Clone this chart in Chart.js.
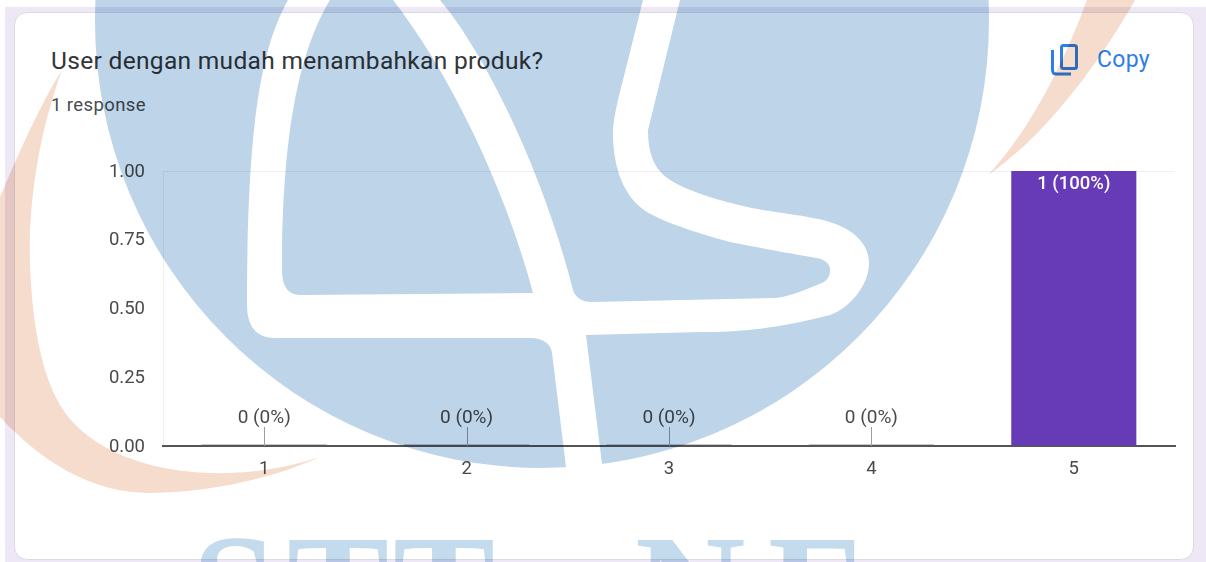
<!DOCTYPE html>
<html>
<head>
<meta charset="utf-8">
<title>User dengan mudah menambahkan produk?</title>
<script src="https://cdn.jsdelivr.net/npm/chart.js@4/dist/chart.umd.min.js"></script>
<style>
html,body{margin:0;padding:0;width:1206px;height:562px;overflow:hidden;background:#fff;font-family:Roboto,sans-serif}
#bg{position:absolute;left:5px;top:7px;right:0;bottom:0;background:#ede7f6}
#card{position:absolute;left:14px;top:12px;width:1178px;height:546px;background:#fff;border:1px solid #dadce0;border-radius:13px}
#cv{position:absolute;left:0;top:0}
#wrap{position:absolute;left:0;top:0;width:1206px;height:562px}
.t{position:absolute;white-space:nowrap}
#title{left:51px;top:46px;font-size:24.5px;line-height:30px;letter-spacing:.32px;color:#333639}
#resp{left:51px;top:93px;font-size:18.5px;line-height:24px;letter-spacing:.4px;color:#4a4d50}
#copy{left:1097px;top:45px;font-size:23px;line-height:30px;font-weight:400;letter-spacing:.3px;color:#2f7de8}
#icon,#wm{position:absolute;left:0;top:0;pointer-events:none}
#wm{mix-blend-mode:multiply}
</style>
</head>
<body>
<div id="bg"></div>
<div id="card"></div>
<div class="t" id="title">User dengan mudah menambahkan produk?</div>
<div class="t" id="resp">1 response</div>
<div class="t" id="copy">Copy</div>
<svg id="icon" width="1206" height="562" fill="none" stroke="#2f7de8" stroke-width="3">
  <rect x="1061.5" y="45.5" width="15" height="23" rx="2"/>
  <path d="M1052.5 50V70q0 4 4 4H1071"/>
</svg>
<div id="wrap"><canvas id="cv" width="1206" height="562"></canvas></div>
<svg id="wm" width="1206" height="562" viewBox="0 0 1206 562">
  <circle cx="542" cy="21" r="447" fill="#bed4e9"/>
  <path fill="#fff" d="M288 -5L288 0C260 50 247 130 247 305Q247 338 275 338L530 338C545 338 551 345 552 353L566 467L566 480L604 480L586 335L700 332C745 332 785 327 830 315C850 308 869 285 869 263C869 245 855 228 823 220C800 215 775 212 763 210C735 205 695 195 670 180C655 170 648 155 648 130L680 0L680 -5L643 -5L643 0L623 80C615 110 613 125 613 133C613 165 622 190 638 205C650 217 680 228 730 242C770 250 800 255 817 258C826 260 831 265 830 271C830 277 826 281 822 283C805 290 790 296 777 298L592 302Q577 302 573 290C545 180 490 60 440 0L440 -5L393 -5L393 0C440 60 500 170 533 293L300 295Q282 295 282 270C282 130 300 50 330 0L330 -5Z"/>
  <path fill="#f6dccd" d="M62 70C40 130 28 200 30 263C32 320 40 370 60 405C90 455 160 475 230 473C265 472 295 465 320 457C280 475 220 492 150 493C90 493 40 460 0 417L-40 400L-40 250L0 197C20 150 40 105 62 70Z"/>
  <path fill="#f6dccd" d="M988 175C1027 133 1060 73 1087 0L1135 0C1103 57 1060 113 1023 147C1010 158 1000 167 988 175Z"/>
  <g font-family="Liberation Serif" font-weight="700" font-size="153" fill="#c4dbed">
    <text x="192 287 393" y="640">STT</text>
    <text x="635 768" y="640">NF</text>
  </g>
</svg>
<script>
const categories = ['1', '2', '3', '4', '5'];
const responses = [0, 0, 0, 0, 1];
const valueLabels = ['0 (0%)', '0 (0%)', '0 (0%)', '0 (0%)', '1 (100%)'];
const axisMin = 0;
const axisMax = 1;
const axisStep = 0.25;

const tickFont = {family: 'Roboto', size: 18.5};

const valueLabelPlugin = {
  id: 'valueLabels',
  afterDatasetsDraw(chart) {
    const ctx = chart.ctx;
    const bars = chart.getDatasetMeta(0).data;
    const base = chart.scales.y.getPixelForValue(0);
    ctx.save();
    ctx.textAlign = 'center';
    ctx.textBaseline = 'middle';
    bars.forEach((bar, i) => {
      if (responses[i] === 0) {
        ctx.strokeStyle = '#c8c8d0';
        ctx.lineWidth = 1;
        ctx.beginPath();
        ctx.moveTo(bar.x - bar.width / 2, base - 1.5);
        ctx.lineTo(bar.x + bar.width / 2, base - 1.5);
        ctx.stroke();
        ctx.strokeStyle = '#9e9e9e';
        ctx.beginPath();
        ctx.moveTo(Math.round(bar.x) + 0.5, base);
        ctx.lineTo(Math.round(bar.x) + 0.5, base - 19);
        ctx.stroke();
        ctx.font = '19px Roboto';
        ctx.fillStyle = '#4a4a4a';
        ctx.fillText(valueLabels[i], bar.x, base - 28);
      } else {
        ctx.font = '500 18.5px Roboto';
        ctx.fillStyle = '#ffffff';
        ctx.fillText(valueLabels[i], bar.x, bar.y + 13);
      }
    });
    ctx.restore();
  }
};

function draw() {
  new Chart(document.getElementById('cv'), {
    type: 'bar',
    data: {
      labels: categories,
      datasets: [{data: responses, backgroundColor: '#673ab7', categoryPercentage: 1, barPercentage: 0.618}]
    },
    options: {
      responsive: false,
      animation: false,
      layout: {padding: {left: 0, right: 31, top: 171, bottom: 56}},
      plugins: {legend: {display: false}, title: {display: false}, tooltip: {enabled: false}},
      scales: {
        x: {
          offset: true,
          afterFit(s) { s.height = 60; },
          border: {color: '#555555', width: 2},
          grid: {
            drawTicks: false,
            lineWidth: 1,
            color: c => (c.index === 0 || c.index === categories.length) ? '#f0f0f0' : 'transparent'
          },
          ticks: {color: '#4a4a4a', font: tickFont, padding: 12, maxRotation: 0}
        },
        y: {
          min: axisMin,
          max: axisMax,
          afterFit(s) { s.width = 163; },
          border: {display: false},
          grid: {
            drawTicks: false,
            color: c => c.tick.value === axisMax ? '#f0f0f0' : 'transparent'
          },
          ticks: {
            stepSize: axisStep,
            color: '#4a4a4a',
            font: tickFont,
            padding: 18,
            labelOffset: 1,
            callback: v => v.toFixed(2)
          }
        }
      }
    },
    plugins: [valueLabelPlugin]
  });
}

(document.fonts && document.fonts.load ? document.fonts.load('18.5px Roboto') : Promise.resolve()).then(draw, draw);
</script>
</body>
</html>
